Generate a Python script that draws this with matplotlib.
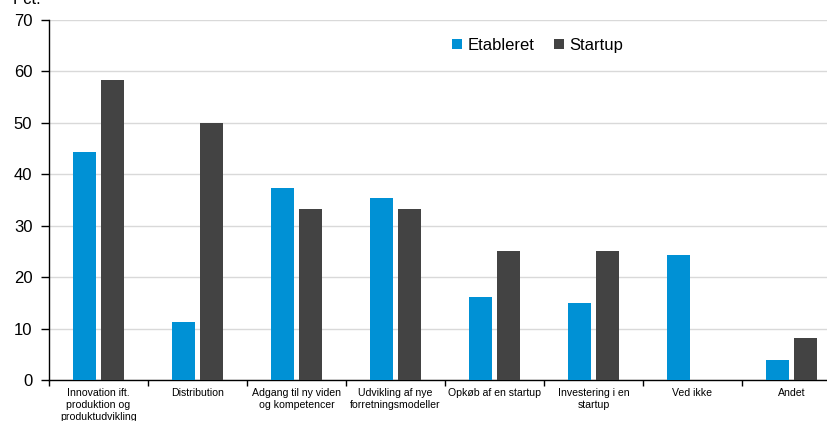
import numpy as np
import matplotlib
matplotlib.use("Agg")
import matplotlib.pyplot as plt
from matplotlib.ticker import FixedLocator

plt.rcParams['font.family'] = ['Liberation Sans', 'DejaVu Sans']

# Data
categories = ["Innovation ift.\nproduktion og\nproduktudvikling", "Distribution",
              "Adgang til ny viden\nog kompetencer", "Udvikling af nye\nforretningsmodeller",
              "Opkøb af en startup", "Investering i en\nstartup", "Ved ikke", "Andet"]
etableret = [44.3, 11.2, 37.3, 35.3, 16.1, 15.0, 24.3, 3.9]
startup = [58.3, 50.0, 33.3, 33.3, 25.0, 25.0, 0.0, 8.2]
yticks = [0, 10, 20, 30, 40, 50, 60, 70]

blue = "#0091d5"
dark = "#434343"

fig = plt.figure(figsize=(8.27, 4.21), dpi=100)
ax = fig.add_axes([49 / 827, 1 - 380 / 421, 792 / 827, 360 / 421])

x = np.arange(len(categories))
w = 0.235
ax.bar(x - 0.145, etableret, width=w, color=blue, label="Etableret", zorder=3)
ax.bar(x + 0.145, startup, width=w, color=dark, label="Startup", zorder=3)

ax.set_xlim(-0.5, len(categories) - 0.5)
ax.set_ylim(0, 70)
ax.set_yticks(yticks)
ax.yaxis.grid(True, color="#d9d9d9", linewidth=1.0, zorder=0)
ax.set_axisbelow(True)

# category labels without major ticks, small ticks at the boundaries
ax.set_xticks(x)
ax.set_xticklabels(categories, fontsize=7.6, linespacing=1.25)
ax.tick_params(axis="x", which="major", length=0, pad=6)
ax.xaxis.set_minor_locator(FixedLocator(np.arange(-0.5, len(categories), 1.0)))
ax.tick_params(axis="x", which="minor", length=4, width=1, direction="out")
ax.tick_params(axis="y", labelsize=12, length=6, width=1, direction="out", pad=6)

for s in ["top", "right"]:
    ax.spines[s].set_visible(False)
ax.spines["left"].set_linewidth(1.0)
ax.spines["bottom"].set_linewidth(1.0)

ax.legend(loc="center", bbox_to_anchor=(0.617, 0.93), ncol=2, frameon=False,
          fontsize=12, handlelength=0.6, handleheight=0.6, handletextpad=0.3,
          columnspacing=1.2)

fig.text(13 / 827, 1 - 7 / 421, "Pct.", fontsize=12, va="bottom", ha="left")

fig.savefig("out.png", dpi=100)
